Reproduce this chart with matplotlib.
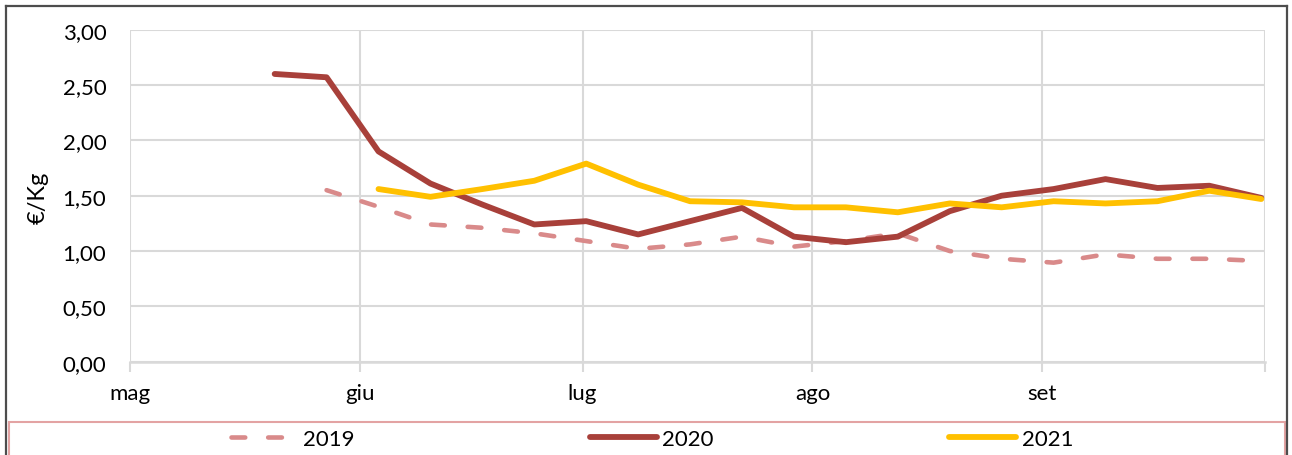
import matplotlib
matplotlib.use("Agg")
import matplotlib.pyplot as plt
import matplotlib.dates as mdates
from matplotlib.lines import Line2D
from matplotlib.patches import Rectangle
from matplotlib.ticker import FuncFormatter
import numpy as np
import pandas as pd

# weekly price survey, all seasons drawn on one common May-September axis
weeks = pd.date_range("2020-05-20", "2020-09-30", freq="7D")

price_2019 = [1.55, 1.40, 1.24, 1.21, 1.16, 1.09, 1.02, 1.06, 1.13, 1.04,
              1.09, 1.16, 1.00, 0.93, 0.895, 0.97, 0.93, 0.93, 0.91]
price_2020 = [2.60, 2.57, 1.90, 1.61, 1.42, 1.24, 1.27, 1.15, 1.27, 1.39,
              1.13, 1.08, 1.13, 1.36, 1.50, 1.56, 1.65, 1.57, 1.59, 1.48]
price_2021 = [1.56, 1.49, 1.56, 1.635, 1.79, 1.60, 1.45, 1.44, 1.395, 1.395,
              1.35, 1.43, 1.395, 1.45, 1.43, 1.45, 1.545, 1.47]

month_ticks = pd.date_range("2020-05-01", "2020-09-01", freq="MS")
month_labels = ["mag", "giu", "lug", "ago", "set"]

plt.rcParams["font.family"] = ["Lato", "DejaVu Sans"]

fig = plt.figure(figsize=(12.92, 4.56), dpi=100)
ax = fig.add_axes([130 / 1292, 1 - 362.7 / 456, 1135 / 1292, 332 / 456])

# points sit in the middle of their day
x_all = mdates.date2num(weeks) + 0.5

ax.plot(x_all[-len(price_2019):], price_2019, color="#D98A8A", lw=3.3,
        dashes=(3, 5), dash_capstyle="round", label="2019", zorder=3)
ax.plot(x_all[-len(price_2020):], price_2020, color="#A8403A", lw=4.2,
        solid_capstyle="round", solid_joinstyle="round", label="2020", zorder=4)
ax.plot(x_all[-len(price_2021):], price_2021, color="#FFC000", lw=4.2,
        solid_capstyle="round", solid_joinstyle="round", label="2021", zorder=5)

ax.set_xlim(mdates.date2num(pd.Timestamp("2020-05-01")),
            mdates.date2num(pd.Timestamp("2020-10-01")))
ax.set_ylim(0, 3)

grid_c = "#D9D9D9"
xt = list(mdates.date2num(month_ticks)) + [mdates.date2num(pd.Timestamp("2020-10-01"))]
ax.set_xticks(xt)
ax.set_xticklabels(month_labels + [""])
ax.set_yticks(np.arange(0, 3.01, 0.5))
ax.yaxis.set_major_formatter(FuncFormatter(lambda v, _: f"{v:.2f}".replace(".", ",")))

ax.grid(True, color=grid_c, lw=1.5)
ax.set_axisbelow(True)
for side in ["top", "right", "left"]:
    ax.spines[side].set_visible(False)
ax.spines["bottom"].set_color(grid_c)
ax.spines["bottom"].set_linewidth(1.8)

ax.tick_params(axis="y", length=0, pad=17, labelsize=16, colors="#000000")
ax.tick_params(axis="x", length=7, width=1.5, pad=8, labelsize=16,
               colors="#000000")
ax.tick_params(axis="x", color=grid_c)

fig.text(38 / 1292, 1 - 198 / 456, "€/Kg", rotation=90, fontsize=17,
         ha="center", va="center")

# outer chart frame and the legend box at the bottom
frame_c = "#4D4D4D"
fig.add_artist(Line2D([6 / 1292, 6 / 1292], [0, 1 - 7 / 456],
                      transform=fig.transFigure, color=frame_c, lw=1.6))
fig.add_artist(Line2D([6 / 1292, 1287 / 1292], [1 - 7 / 456, 1 - 7 / 456],
                      transform=fig.transFigure, color=frame_c, lw=1.6))
fig.add_artist(Line2D([1287 / 1292, 1287 / 1292], [0, 1 - 7 / 456],
                      transform=fig.transFigure, color=frame_c, lw=1.6))
fig.add_artist(Rectangle((9 / 1292, -0.05), 1276 / 1292, 0.05 + 1 - 423 / 456,
                         transform=fig.transFigure, fill=False,
                         edgecolor="#E3A3A3", lw=1.5))

fig.legend(loc="center", bbox_to_anchor=(652 / 1292, 1 - 440 / 456), ncol=3,
           frameon=False, fontsize=16, handlelength=3.0, handletextpad=0.25,
           columnspacing=10.6)

fig.savefig("out.png", dpi=100)
